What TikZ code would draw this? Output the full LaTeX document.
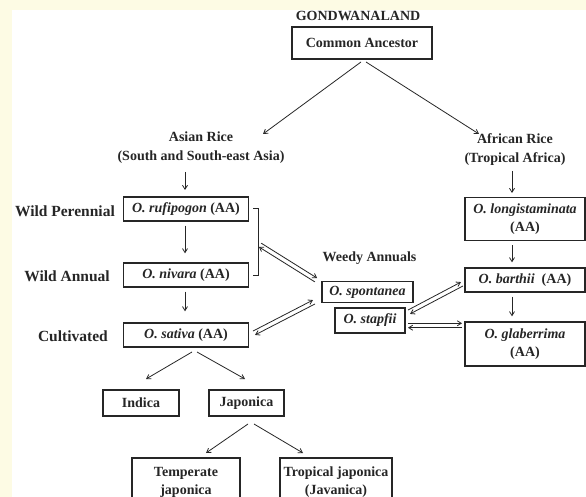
\documentclass[tikz,border=0pt]{standalone}
\usepackage{fontspec}
\setmainfont{Liberation Serif}
\usetikzlibrary{arrows.meta,calc}
\definecolor{cream}{HTML}{FDFBE4}
\definecolor{ink}{HTML}{262626}
\tikzset{
  box/.style={draw=ink, line width=1.4pt, inner sep=0pt, font=\fontsize{14}{18}\selectfont\bfseries, text=ink, align=center},
  lbl/.style={inner sep=0pt, font=\fontsize{14}{19}\selectfont\bfseries, text=ink, align=center},
  sidelbl/.style={lbl, anchor=east, font=\fontsize{15.5}{19}\selectfont\bfseries},
  arr/.style={draw=ink, line width=0.8pt, -{Straight Barb[length=4pt,width=5pt]}},
}
\newcommand{\dblarr}[2]{%
  \draw[arr] ($(#1)!2.2pt!90:(#2)$) -- ($(#2)!2.2pt!-90:(#1)$);
  \draw[arr] ($(#2)!2.2pt!90:(#1)$) -- ($(#1)!2.2pt!-90:(#2)$);
}
\begin{document}
\begin{tikzpicture}[x=1pt,y=-1pt]
\clip (0,0) rectangle (586,497);
\fill[cream] (0,0) rectangle (586,497);
\fill[white] (12,10) rectangle (586,497);

% top
\node[lbl] (gond) at (358,16) {GONDWANALAND};
\node[box, minimum width=140, minimum height=32] (ca) at (362,43) {Common Ancestor};
\node[lbl] (asian) at (201,148) {Asian Rice\\(South and South-east Asia)};
\node[lbl] (african) at (515,150) {African Rice\\(Tropical Africa)};

% left column labels
\node[sidelbl] (wp) at (115,211) {Wild Perennial};
\node[sidelbl] (wa) at (110,276) {Wild Annual};
\node[sidelbl] (cu) at (108,336) {Cultivated};

% left column boxes
\node[box, minimum width=125, minimum height=24] (ruf) at (186,209) {\textit{O. rufipogon} (AA)};
\node[box, minimum width=125, minimum height=24] (niv) at (186,275) {\textit{O. nivara} (AA)};
\node[box, minimum width=125, minimum height=24] (sat) at (186,335) {\textit{O. sativa} (AA)};

% weedy
\node[lbl] (weedy) at (369.5,258) {Weedy Annuals};
\node[box, minimum width=91, minimum height=21] (spo) at (367.5,292) {\textit{O. spontanea}};
\node[box, minimum width=70, minimum height=25] (sta) at (370,320.5) {\textit{O. stapfii}};

% right column
\node[box, minimum width=120, minimum height=43] (lon) at (525,219) {\textit{O. longistaminata}\\(AA)};
\node[box, minimum width=120, minimum height=24] (bar) at (525,280) {\textit{O. barthii}\ \ (AA)};
\node[box, minimum width=120, minimum height=44] (gla) at (525,344) {\textit{O. glaberrima}\\(AA)};

% bottom
\node[box, minimum width=76, minimum height=26] (ind) at (141,403) {Indica};
\node[box, minimum width=75, minimum height=26] (jap) at (246.5,403) {Japonica};
\node[box, minimum width=108, minimum height=48] (tem) at (186,482) {Temperate\\japonica};
\node[box, minimum width=112, minimum height=48] (tro) at (336,482) {Tropical japonica\\(Javanica)};

% coordinates for connector ends
\coordinate (caL) at (361,62);
\coordinate (caR) at (366,62);
\coordinate (asT) at (263,134);
\coordinate (afT) at (479,134);
\coordinate (asB) at (185,172);
\coordinate (rufT) at (185,190);
\coordinate (afB) at (512,171);
\coordinate (lonT) at (512,193);
\coordinate (satL) at (192,352);
\coordinate (satR2) at (197,352);
\coordinate (indT) at (146,379);
\coordinate (japT) at (245,379);
\coordinate (japL) at (248,424);
\coordinate (japR) at (254,424);
\coordinate (temT) at (206,453);
\coordinate (troT) at (303,453);

% bracket
\draw[ink, line width=0.9pt] (253,208) -- (258,208) -- (258,275) -- (253,275);
\coordinate (brk) at (260,245);
\coordinate (spoA) at (316,280);
\coordinate (satR) at (254,333);
\coordinate (spoB) at (314,302);
\coordinate (staA) at (409,312);
\coordinate (barL) at (462,284);
\coordinate (staR) at (408,325.5);
\coordinate (glaL) at (462,325.5);

% arrows
\draw[arr] (caL) -- (asT);
\draw[arr] (caR) -- (afT);
\draw[arr] (asB) -- (rufT);
\draw[arr] ($(ruf.south -| asB)+(0,4)$) -- ($(niv.north -| asB)+(0,-9)$);
\draw[arr] ($(niv.south -| asB)+(0,4)$) -- ($(sat.north -| asB)+(0,-11)$);
\draw[arr] (afB) -- (lonT);
\draw[arr] ($(lon.south -| afB)+(0,4)$) -- ($(bar.north -| afB)+(0,-5)$);
\draw[arr] ($(bar.south -| afB)+(0,4)$) -- ($(gla.north -| afB)+(0,-5)$);
\draw[arr] (satL) -- (indT);
\draw[arr] (satR2) -- (japT);
\draw[arr] (japL) -- (temT);
\draw[arr] (japR) -- (troT);

% double arrows
\dblarr{brk}{spoA}
\dblarr{satR}{spoB}
\dblarr{staA}{barL}
\dblarr{staR}{glaL}
\end{tikzpicture}
\end{document}
